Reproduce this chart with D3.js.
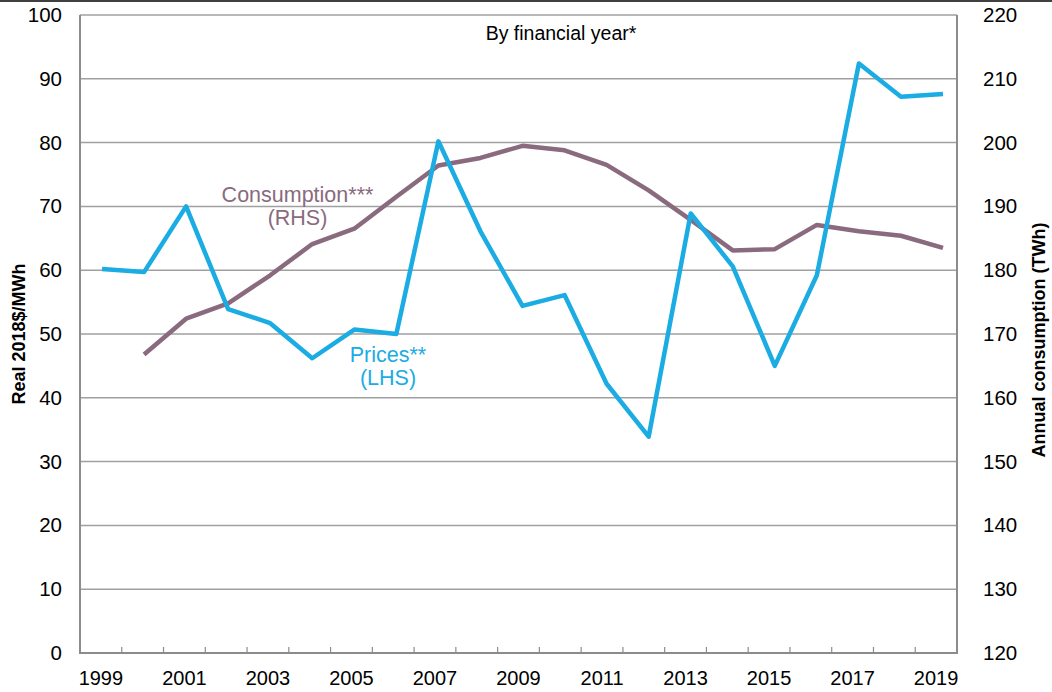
<!DOCTYPE html>
<html>
<head>
<meta charset="utf-8">
<title>Prices and consumption</title>
<style>
  body { margin: 0; background: #fff; }
  svg { display: block; font-family: "Liberation Sans", Arial, sans-serif; }
</style>
</head>
<body>
<svg width="1052" height="692"></svg>
<script src="https://d3js.org/d3.v7.min.js"></script>
<script>
// data
var years = d3.range(1999, 2020);
var yearLabels = ["1999", "2001", "2003", "2005", "2007", "2009", "2011", "2013", "2015", "2017", "2019"];

var prices = [60.2, 59.7, 70.0, 53.9, 51.7, 46.2, 50.7, 50.0, 80.2, 66.1, 54.4,
              56.1, 42.2, 33.9, 68.9, 60.6, 45.0, 59.2, 92.4, 87.2, 87.6];
// consumption starts in 2000
var consumption = [null, 166.8, 172.4, 174.8, 179.2, 184.1, 186.5, 191.5, 196.4, 197.6, 199.5,
                   198.8, 196.5, 192.5, 187.9, 183.1, 183.3, 187.1, 186.1, 185.4, 183.5];

var leftTicks = d3.range(0, 101, 10);
var rightTicks = d3.range(120, 221, 10);

var blue = "#1aace3",
    mauve = "#8a6a7e",
    gridCol = "#a0a0a0",
    axisCol = "#8c8c8c";

var svg = d3.select("svg");

var plotL = 80, plotR = 957, plotT = 15, plotB = 653;

var xBand = d3.scaleBand().domain(years).range([plotL, plotR]);
var xLine = d3.scalePoint().domain(years).range([102, 943]);
var yL = d3.scaleLinear().domain([0, 100]).range([plotB, plotT]);
var yR = d3.scaleLinear().domain([120, 220]).range([plotB, plotT]);

// thin rule across the top
svg.append("line")
    .attr("x1", 0).attr("x2", 1052)
    .attr("y1", 1).attr("y2", 1)
    .attr("stroke", "#000").attr("stroke-width", 1.5);

// gridlines
svg.append("g")
  .selectAll("line")
  .data(leftTicks.slice(1))
  .enter().append("line")
    .attr("x1", plotL).attr("x2", plotR)
    .attr("y1", function(d) { return yL(d); })
    .attr("y2", function(d) { return yL(d); })
    .attr("stroke", gridCol)
    .attr("stroke-width", 1.5);

// axis lines
svg.append("line")
    .attr("x1", plotL).attr("x2", plotL).attr("y1", plotT).attr("y2", plotB + 1)
    .attr("stroke", axisCol).attr("stroke-width", 2);
svg.append("line")
    .attr("x1", plotR).attr("x2", plotR).attr("y1", plotT).attr("y2", plotB + 1)
    .attr("stroke", axisCol).attr("stroke-width", 2);
svg.append("line")
    .attr("x1", plotL - 1).attr("x2", plotR + 1).attr("y1", plotB).attr("y2", plotB)
    .attr("stroke", axisCol).attr("stroke-width", 2);

// x tick marks between years, pointing up
svg.append("g")
  .selectAll("line")
  .data(years.slice(1))
  .enter().append("line")
    .attr("x1", function(d) { return xBand(d); })
    .attr("x2", function(d) { return xBand(d); })
    .attr("y1", plotB)
    .attr("y2", plotB - 6)
    .attr("stroke", axisCol)
    .attr("stroke-width", 1.2);

// x labels
svg.append("g")
  .selectAll("text")
  .data(yearLabels)
  .enter().append("text")
    .attr("x", function(d) { return xBand(+d) + xBand.bandwidth() / 2; })
    .attr("y", 685)
    .attr("text-anchor", "middle")
    .attr("font-size", 20)
    .attr("fill", "#000")
    .text(function(d) { return d; });

// left tick labels
svg.append("g")
  .selectAll("text")
  .data(leftTicks)
  .enter().append("text")
    .attr("x", 62)
    .attr("y", function(d) { return yL(d) + 7; })
    .attr("text-anchor", "end")
    .attr("font-size", 20.5)
    .attr("fill", "#000")
    .text(function(d) { return d; });

// right tick labels
svg.append("g")
  .selectAll("text")
  .data(rightTicks)
  .enter().append("text")
    .attr("x", 983)
    .attr("y", function(d) { return yR(d) + 7; })
    .attr("text-anchor", "start")
    .attr("font-size", 20.5)
    .attr("fill", "#000")
    .text(function(d) { return d; });

// axis titles
svg.append("text")
    .attr("transform", "translate(25," + ((plotT + plotB) / 2) + ") rotate(-90)")
    .attr("text-anchor", "middle")
    .attr("font-size", 18)
    .attr("font-weight", "bold")
    .text("Real 2018$/MWh");

svg.append("text")
    .attr("transform", "translate(1045,340) rotate(-90)")
    .attr("text-anchor", "middle")
    .attr("font-size", 18)
    .attr("font-weight", "bold")
    .text("Annual consumption (TWh)");

svg.append("text")
    .attr("x", 561)
    .attr("y", 40)
    .attr("text-anchor", "middle")
    .attr("font-size", 19.5)
    .attr("fill", "#000")
    .text("By financial year*");

// series
var consLine = d3.line()
    .defined(function(d) { return d != null; })
    .x(function(d, i) { return xLine(years[i]); })
    .y(function(d) { return yR(d); });

var priceLine = d3.line()
    .x(function(d, i) { return xLine(years[i]); })
    .y(function(d) { return yL(d); });

svg.append("path")
    .datum(consumption)
    .attr("fill", "none")
    .attr("stroke", mauve)
    .attr("stroke-width", 4.5)
    .attr("stroke-linejoin", "round")
    .attr("d", consLine);

svg.append("path")
    .datum(prices)
    .attr("fill", "none")
    .attr("stroke", blue)
    .attr("stroke-width", 4.5)
    .attr("stroke-linejoin", "round")
    .attr("d", priceLine);

// series labels
var consLabel = svg.append("text")
    .attr("text-anchor", "middle")
    .attr("font-size", 21.5)
    .attr("fill", mauve);
consLabel.append("tspan").attr("x", 297.5).attr("y", 201.5).text("Consumption***");
consLabel.append("tspan").attr("x", 297.5).attr("y", 225).text("(RHS)");

var priceLabel = svg.append("text")
    .attr("text-anchor", "middle")
    .attr("font-size", 21.5)
    .attr("fill", blue);
priceLabel.append("tspan").attr("x", 388).attr("y", 362).text("Prices**");
priceLabel.append("tspan").attr("x", 388).attr("y", 385).text("(LHS)");
</script>
</body>
</html>
